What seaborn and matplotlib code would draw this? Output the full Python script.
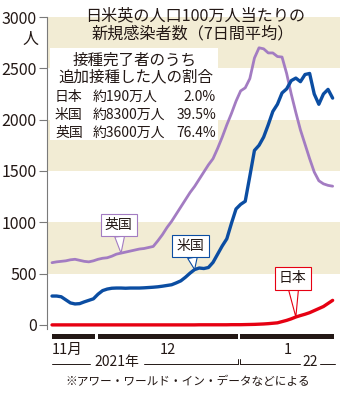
import numpy as np
import pandas as pd
import matplotlib
matplotlib.use("Agg")
import matplotlib.pyplot as plt
from matplotlib.patches import Rectangle
from matplotlib.transforms import blended_transform_factory
import seaborn as sns

sns.set_style("white")
plt.rcParams["font.family"] = ["Noto Sans CJK JP", "DejaVu Sans"]

# New infections per million people, 7-day average, from 2021-11-21
start_date = "2021-11-21"
uk = [607, 615, 620, 625, 635, 640, 630, 620, 615, 625,
      640, 650, 655, 670, 690, 700, 710, 720, 730, 740,
      745, 755, 765, 820, 880, 950, 1010, 1080, 1150, 1220,
      1290, 1350, 1420, 1490, 1560, 1620, 1720, 1830, 1950, 2060,
      2180, 2280, 2310, 2400, 2600, 2700, 2690, 2650, 2650, 2615,
      2610, 2450, 2250, 2070, 1900, 1760, 1620, 1490, 1405, 1375,
      1360, 1352]
us = [282, 282, 275, 245, 215, 205, 208, 225, 240, 255,
      300, 335, 350, 358, 360, 360, 358, 360, 360, 360,
      362, 365, 368, 372, 378, 385, 392, 410, 430, 465,
      505, 540, 555, 550, 560, 610, 690, 770, 840, 990,
      1130, 1175, 1205, 1450, 1700, 1750, 1830, 1950, 2080, 2150,
      2260, 2300, 2380, 2405, 2370, 2440, 2450, 2250, 2150, 2250,
      2295, 2210]
japan = [1, 1, 1, 1, 1, 1, 1, 1, 1, 1,
         1, 1, 1, 1, 1, 1, 1, 1, 1, 1,
         1, 1, 1, 1, 1, 1, 1, 1, 1, 1,
         1, 1, 2, 2, 2, 2, 2, 2, 2, 3,
         3, 3, 4, 5, 6, 8, 10, 13, 17, 21,
         33, 45, 60, 78, 92, 105, 120, 140, 160, 180,
         210, 240]

# Booster coverage among fully vaccinated people
countries = ["日本", "米国", "英国"]
boosted_people = ["約190万人", "約8300万人", "約3600万人"]
boosted_share = ["2.0%", "39.5%", "76.4%"]

yticks = [0, 500, 1000, 1500, 2000, 2500, 3000]
month_labels = {11: "11月", 12: "12", 1: "1"}

C_UK = "#a37cc2"
C_US = "#0b4da2"
C_JP = "#e60012"
BEIGE = "#f2ecd4"
INK = "#231815"

W, H = 350, 400


def P(x, y):
    """pixel position -> figure fraction"""
    return x / W, 1 - y / H


dates = pd.date_range(start_date, periods=len(uk), freq="D")
day = np.arange(len(uk))
df = pd.DataFrame({"day": day, "英国": uk, "米国": us, "日本": japan})

fig = plt.figure(figsize=(W / 100, H / 100), dpi=100)
ax = fig.add_axes([47 / W, 1 - 329.1 / H, (340 - 47) / W, 312.1 / H])

for lo, hi in [(500, 1000), (1500, 2000), (2500, 3000)]:
    ax.axhspan(lo, hi, color=BEIGE, lw=0, zorder=0)

sns.lineplot(data=df, x="day", y="英国", color=C_UK, lw=2.0, ax=ax, zorder=3)
sns.lineplot(data=df, x="day", y="米国", color=C_US, lw=2.4, ax=ax, zorder=3)
sns.lineplot(data=df, x="day", y="日本", color=C_JP, lw=2.4, ax=ax, zorder=3)

ax.set_xlim(-1.09, 62.6)
ax.set_ylim(-40, 3000)
ax.set_xlabel("")
ax.set_ylabel("")
ax.set_xticks([])
ax.set_yticks(yticks)
ax.set_yticklabels([str(v) for v in yticks])
for s in ["top", "right", "bottom"]:
    ax.spines[s].set_visible(False)
ax.spines["left"].set_color("#7a7a7a")
ax.spines["left"].set_linewidth(0.8)
ax.spines["left"].set_bounds(-40, 3000)
ax.tick_params(axis="y", direction="out", length=6, width=0.8, color="#7a7a7a",
               pad=1.5, labelsize=11.5, labelcolor=INK, left=True)
ax.set_facecolor("white")
fig.text(*P(30, 39), "人", ha="center", va="center", fontsize=11.5, color=INK)

# Title
fig.text(*P(195, 16), "日米英の人口100万人当たりの", ha="center", va="center",
         fontsize=11.6, color=INK, zorder=5)
fig.text(*P(193, 34), "新規感染者数（7日間平均）", ha="center", va="center",
         fontsize=11.6, color=INK, zorder=5)

# Booster table
x0, y0 = P(50, 140)
x1, y1 = P(218, 48)
ax.add_patch(Rectangle((x0, y0), x1 - x0, y1 - y0, transform=fig.transFigure,
                       facecolor="white", edgecolor="none", zorder=1))
fig.text(*P(135, 60), "接種完了者のうち", ha="center", va="center", fontsize=11.2, color=INK)
fig.text(*P(136, 77), "追加接種した人の割合", ha="center", va="center", fontsize=11.2, color=INK)
for i, (c, n, s) in enumerate(zip(countries, boosted_people, boosted_share)):
    yy = 97 + i * 18
    fig.text(*P(55, yy), c, ha="left", va="center", fontsize=10, color=INK)
    fig.text(*P(93, yy), n, ha="left", va="center", fontsize=10, color=INK)
    fig.text(*P(216, yy), s, ha="right", va="center", fontsize=10, color=INK)


# Callout labels pointing at each line
def callout(text, tip_day, series, box_xy, color):
    ax.annotate(text, xy=(tip_day, series[tip_day]), xytext=box_xy, textcoords="data",
                ha="center", va="center", fontsize=10, color=INK, zorder=6,
                bbox=dict(boxstyle="square,pad=0.3", fc="white", ec=color, lw=0.8),
                arrowprops=dict(arrowstyle="wedge,tail_width=0.7", fc="white", ec=color,
                                lw=0.8, shrinkA=0, shrinkB=0, mutation_scale=10))


callout("英国", 15, uk, (14.5, 974), C_UK)
callout("米国", 31, us, (30.1, 769), C_US)
callout("日本", 53, japan, (52.3, 453), C_JP)

# Month bars under the plot
tr = blended_transform_factory(ax.transData, fig.transFigure)
months = pd.Series(day, index=dates).groupby([dates.year, dates.month])
for (yr, mo), idx in months:
    s, e = idx.iloc[0], idx.iloc[-1]
    ax.add_patch(Rectangle((s - 0.05, 1 - 339 / H), e - s + 0.45, 5 / H, transform=tr,
                           clip_on=False, facecolor=INK, edgecolor="none"))
    if mo == 11:
        ax.text(s - 0.05, 1 - 350 / H, month_labels[mo], transform=tr, ha="left",
                va="center", fontsize=10.5, color=INK)
    else:
        ax.text((s + e + 0.4) / 2, 1 - 350 / H, month_labels[mo], transform=tr,
                ha="center", va="center", fontsize=10.5, color=INK)

# Year rule
yl = 1 - 364 / H
yt = 1 - 359 / H
kw = dict(transform=tr, color=INK, lw=0.7, clip_on=False)
ax.plot([-0.05, 8.3], [yl, yl], **kw)
ax.plot([20.0, 40.4], [yl, yl], **kw)
ax.plot([40.4, 40.4], [yl, yt], **kw)
ax.plot([40.95, 40.95], [yl, yt], **kw)
ax.plot([40.95, 54.0], [yl, yl], **kw)
ax.plot([58.3, 61.6], [yl, yl], **kw)
ax.text(14.1, 1 - 362 / H, "2021年", transform=tr, ha="center", va="center",
        fontsize=10, color=INK)
ax.text(56.1, 1 - 362 / H, "22", transform=tr, ha="center", va="center",
        fontsize=10, color=INK)

fig.text(*P(188, 382), "※アワー・ワールド・イン・データなどによる", ha="center", va="center",
         fontsize=8.4, color=INK)

fig.savefig("out.png", dpi=100)
